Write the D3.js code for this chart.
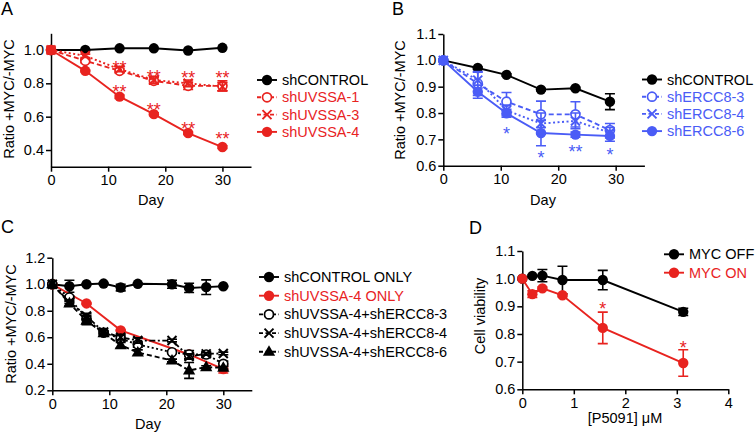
<!DOCTYPE html>
<html>
<head>
<meta charset="utf-8">
<script src="https://cdn.jsdelivr.net/npm/d3@7"></script>
<style>
  body { margin: 0; background: #fff; }
  svg { display: block; font-family: Arial, "Liberation Sans", Helvetica, sans-serif; }
</style>
</head>
<body>
<div id="box"></div>
<script>
// colours used for the series
var red = "#e8231f";
var blue = "#4a5cf6";

// panel A
var daysA = [0, 6, 12, 18, 24, 30];
var aControl = [1.0, 1.0, 1.01, 1.01, 0.997, 1.013];
var aUVSSA1 = [1.0, 0.935, 0.875, 0.815, 0.785, 0.785];
var aUVSSA1Err = [0, 0.012, 0.012, 0.02, 0.022, 0.03];
var aUVSSA3 = [1.0, 0.965, 0.885, 0.82, 0.80, 0.78];
var aUVSSA3Err = [0, 0.01, 0.015, 0.02, 0.02, 0.025];
var aUVSSA4 = [1.0, 0.875, 0.72, 0.615, 0.502, 0.418];
var aUVSSA4Err = [0, 0.005, 0.01, 0.008, 0.008, 0.008];
var starsA = [
  {x: 12, y: 0.915, t: "**"}, {x: 18, y: 0.864, t: "**"}, {x: 24, y: 0.856, t: "**"}, {x: 30, y: 0.856, t: "**"},
  {x: 12, y: 0.772, t: "**"}, {x: 18, y: 0.664, t: "**"}, {x: 24, y: 0.55, t: "**"}, {x: 30, y: 0.49, t: "**"}
];

// panel B
var daysB = [0, 6, 11, 17, 23, 29];
var bControl = [1.0, 0.971, 0.945, 0.889, 0.894, 0.843];
var bControlErr = [0, 0.004, 0.004, 0.004, 0.004, 0.03];
var bERCC3 = [1.0, 0.912, 0.843, 0.795, 0.795, 0.735];
var bERCC3Err = [0, 0.045, 0.035, 0.05, 0.048, 0.025];
var bERCC4 = [1.0, 0.925, 0.81, 0.76, 0.77, 0.725];
var bERCC4Err = [0, 0.03, 0.02, 0.04, 0.03, 0.02];
var bERCC6 = [1.0, 0.881, 0.799, 0.724, 0.718, 0.713];
var bERCC6Err = [0, 0.025, 0.015, 0.048, 0.01, 0.02];
var starsB = [
  {x: 11, y: 0.735, t: "*"}, {x: 17, y: 0.644, t: "*"}, {x: 23, y: 0.667, t: "**"}, {x: 29, y: 0.657, t: "*"}
];

// panel C
var daysC = [0, 3, 6, 9, 12, 15, 21, 24, 27, 30];
var cControl = [1.0, 0.985, 1.0, 1.005, 0.975, 1.003, 1.0, 0.972, 0.978, 0.985];
var cControlErr = [0, 0.045, 0.004, 0.004, 0.025, 0.004, 0.03, 0.035, 0.055, 0.004];
var daysCRed = [0, 6, 12, 24, 30];
var cUVSSA4 = [1.0, 0.855, 0.652, 0.47, 0.36];
var cUVSSA4Err = [0, 0.005, 0.005, 0.01, 0.03];
var cERCC3 = [1.0, 0.9, 0.735, 0.635, 0.59, 0.545, 0.487, 0.47, 0.47, 0.4];
var cERCC3Err = [0, 0.01, 0.03, 0.01, 0.02, 0.02, 0.01, 0.03, 0.02, 0.02];
var cERCC4 = [1.0, 0.865, 0.76, 0.64, 0.6, 0.575, 0.575, 0.455, 0.475, 0.478];
var cERCC4Err = [0, 0.01, 0.02, 0.01, 0.02, 0.02, 0.01, 0.02, 0.01, 0.01];
var cERCC6 = [1.0, 0.855, 0.725, 0.63, 0.54, 0.485, 0.425, 0.35, 0.375, 0.37];
var cERCC6Err = [0, 0.015, 0.03, 0.01, 0.02, 0.02, 0.01, 0.06, 0.01, 0.01];

// panel D
var doseD = [0, 0.195, 0.39, 0.78, 1.5625, 3.125];
var dOff = [1.0, 1.01, 1.011, 0.995, 0.995, 0.88];
var dOffErr = [0, 0.003, 0.022, 0.05, 0.035, 0.013];
var dOn = [1.0, 0.944, 0.965, 0.94, 0.822, 0.695];
var dOnErr = [0, 0.012, 0.005, 0.005, 0.057, 0.048];
var starsD = [{x: 1.5625, y: 0.904, t: "*"}, {x: 3.125, y: 0.765, t: "*"}];

var width = 755, height = 432;
var svg = d3.select("#box").append("svg")
  .attr("width", width)
  .attr("height", height);

function makeSeries(xs, ys, errs, color, dash, marker, name, textColor) {
  return {
    points: xs.map(function(x, i) { return {x: x, y: ys[i], e: errs ? errs[i] : 0}; }),
    color: color, dash: dash, marker: marker, name: name, textColor: textColor || color
  };
}

function drawMarker(g, type, x, y, color) {
  if (type == "dot") {
    g.append("circle").attr("cx", x).attr("cy", y).attr("r", 5.2).attr("fill", color);
  } else if (type == "ring") {
    g.append("circle").attr("cx", x).attr("cy", y).attr("r", 4.5)
      .attr("fill", "#fff").attr("stroke", color).attr("stroke-width", 1.7);
  } else if (type == "x") {
    var s = 4.5;
    g.append("path")
      .attr("d", "M" + (x - s) + "," + (y - s) + "L" + (x + s) + "," + (y + s) +
                 "M" + (x - s) + "," + (y + s) + "L" + (x + s) + "," + (y - s))
      .attr("stroke", color).attr("stroke-width", 2).attr("fill", "none");
  } else if (type == "tri") {
    g.append("path").attr("d", d3.symbol().type(d3.symbolTriangle).size(65)())
      .attr("transform", "translate(" + x + "," + (y + 0.5) + ")")
      .attr("fill", color);
  }
}

function dashFor(style) {
  if (style == "dash") return "5,3";
  if (style == "dot") return "2,2.5";
  if (style == "dashdot") return "6,2.5,2,2.5";
  return null;
}

function drawPanel(p) {
  var x = d3.scaleLinear().domain(p.xDomain).range(p.xRange);
  var y = d3.scaleLinear().domain(p.yDomain).range(p.yRange);
  var g = svg.append("g");

  // axes
  var xAxis = g.append("g")
    .attr("transform", "translate(0," + p.yRange[0] + ")")
    .call(d3.axisBottom(x).tickValues(p.xTicks).tickSize(5).tickPadding(3).tickSizeOuter(0)
      .tickFormat(d3.format("d")));
  var yAxis = g.append("g")
    .attr("transform", "translate(" + p.xRange[0] + ",0)")
    .call(d3.axisLeft(y).tickValues(p.yTicks).tickSize(5).tickPadding(2).tickSizeOuter(0)
      .tickFormat(d3.format(".1f")));
  [xAxis, yAxis].forEach(function(a) {
    a.selectAll("path, line").attr("stroke", "#000").attr("stroke-width", 1.5);
    a.selectAll("text").attr("font-size", 14.5).attr("fill", "#000")
      .attr("font-family", "Arial, 'Liberation Sans', sans-serif");
  });

  g.append("text").attr("x", p.xLabelPos[0]).attr("y", p.xLabelPos[1])
    .attr("text-anchor", "middle").attr("font-size", 14.5).text(p.xLabel);
  g.append("text")
    .attr("transform", "translate(" + p.yLabelPos[0] + "," + p.yLabelPos[1] + ") rotate(-90)")
    .attr("text-anchor", "middle").attr("font-size", 14.5).text(p.yLabel);
  g.append("text").attr("x", p.letterPos[0]).attr("y", p.letterPos[1])
    .attr("font-size", 18).text(p.letter);

  var line = d3.line().x(function(d) { return x(d.x); }).y(function(d) { return y(d.y); });

  p.series.forEach(function(s) {
    var sg = g.append("g");
    s.points.forEach(function(d) {
      if (d.e > 0) {
        var y0 = y(d.y - d.e), y1 = y(d.y + d.e), cx = x(d.x);
        sg.append("path")
          .attr("d", "M" + cx + "," + y0 + "V" + y1 +
                     "M" + (cx - 5) + "," + y0 + "H" + (cx + 5) +
                     "M" + (cx - 5) + "," + y1 + "H" + (cx + 5))
          .attr("stroke", s.color).attr("stroke-width", 1.6).attr("fill", "none");
      }
    });
    sg.append("path").datum(s.points).attr("d", line)
      .attr("fill", "none").attr("stroke", s.color).attr("stroke-width", 1.9)
      .attr("stroke-dasharray", dashFor(s.dash));
    s.points.forEach(function(d) { drawMarker(sg, s.marker, x(d.x), y(d.y), s.color); });
  });

  (p.stars || []).forEach(function(st) {
    g.append("text").attr("x", x(st.x)).attr("y", y(st.y) + 10)
      .attr("text-anchor", "middle").attr("font-size", 18)
      .attr("fill", p.starColor).text(st.t);
  });

  // legend
  p.series.forEach(function(s, i) {
    var ly = p.legend.y + i * p.legend.step;
    var lx = p.legend.x;
    g.append("line").attr("x1", lx).attr("x2", lx + 20).attr("y1", ly).attr("y2", ly)
      .attr("stroke", s.color).attr("stroke-width", 1.9)
      .attr("stroke-dasharray", s.dash == "solid" ? null : "4,2.5");
    drawMarker(g, s.marker, lx + 10, ly, s.color);
    g.append("text").attr("x", lx + 25).attr("y", ly).attr("dy", "0.35em")
      .attr("font-size", 14.5).attr("fill", s.textColor).text(s.name);
  });
}

drawPanel({
  letter: "A", letterPos: [1, 15],
  xDomain: [0, 35], xRange: [51, 251],
  yDomain: [0.3, 1.1], yRange: [166.7, 33.3],
  xTicks: [0, 10, 20, 30], yTicks: [0.4, 0.6, 0.8, 1.0],
  xLabel: "Day", xLabelPos: [151, 205],
  yLabel: "Ratio +MYC/-MYC", yLabelPos: [14, 99],
  starColor: red, stars: starsA,
  legend: {x: 257, y: 80, step: 17.3},
  series: [
    makeSeries(daysA, aControl, null, "#000", "solid", "dot", "shCONTROL"),
    makeSeries(daysA, aUVSSA1, aUVSSA1Err, red, "dash", "ring", "shUVSSA-1"),
    makeSeries(daysA, aUVSSA3, aUVSSA3Err, red, "dot", "x", "shUVSSA-3"),
    makeSeries(daysA, aUVSSA4, aUVSSA4Err, red, "solid", "dot", "shUVSSA-4")
  ]
});

drawPanel({
  letter: "B", letterPos: [392, 15],
  xDomain: [0, 35], xRange: [443.3, 644.4],
  yDomain: [0.6, 1.1], yRange: [165.7, 34],
  xTicks: [0, 10, 20, 30], yTicks: [0.6, 0.7, 0.8, 0.9, 1.0, 1.1],
  xLabel: "Day", xLabelPos: [543, 205],
  yLabel: "Ratio +MYC/-MYC", yLabelPos: [405, 100],
  starColor: blue, stars: starsB,
  legend: {x: 642, y: 79.5, step: 17.2},
  series: [
    makeSeries(daysB, bControl, bControlErr, "#000", "solid", "dot", "shCONTROL"),
    makeSeries(daysB, bERCC3, bERCC3Err, blue, "dash", "ring", "shERCC8-3"),
    makeSeries(daysB, bERCC4, bERCC4Err, blue, "dot", "x", "shERCC8-4"),
    makeSeries(daysB, bERCC6, bERCC6Err, blue, "solid", "dot", "shERCC8-6")
  ]
});

drawPanel({
  letter: "C", letterPos: [1, 233],
  xDomain: [0, 35], xRange: [52.3, 251.8],
  yDomain: [0.2, 1.2], yRange: [390.3, 257.7],
  xTicks: [0, 10, 20, 30], yTicks: [0.2, 0.4, 0.6, 0.8, 1.0, 1.2],
  xLabel: "Day", xLabelPos: [148, 429],
  yLabel: "Ratio +MYC/-MYC", yLabelPos: [16, 324],
  legend: {x: 259, y: 277, step: 18.7},
  series: [
    makeSeries(daysC, cControl, cControlErr, "#000", "solid", "dot", "shCONTROL ONLY"),
    makeSeries(daysCRed, cUVSSA4, cUVSSA4Err, red, "solid", "dot", "shUVSSA-4 ONLY"),
    makeSeries(daysC, cERCC3, cERCC3Err, "#000", "dot", "ring", "shUVSSA-4+shERCC8-3"),
    makeSeries(daysC, cERCC4, cERCC4Err, "#000", "dashdot", "x", "shUVSSA-4+shERCC8-4"),
    makeSeries(daysC, cERCC6, cERCC6Err, "#000", "dash", "tri", "shUVSSA-4+shERCC8-6")
  ]
});

drawPanel({
  letter: "D", letterPos: [469, 234],
  xDomain: [0, 4], xRange: [522.3, 728.3],
  yDomain: [0.6, 1.1], yRange: [389.3, 251],
  xTicks: [0, 1, 2, 3, 4], yTicks: [0.6, 0.7, 0.8, 0.9, 1.0, 1.1],
  xLabel: "[P5091] \u03bcM", xLabelPos: [625, 423],
  yLabel: "Cell viability", yLabelPos: [485, 316],
  starColor: red, stars: starsD,
  legend: {x: 664, y: 254.3, step: 18.4},
  series: [
    makeSeries(doseD, dOff, dOffErr, "#000", "solid", "dot", "MYC OFF"),
    makeSeries(doseD, dOn, dOnErr, red, "solid", "dot", "MYC ON")
  ]
});
</script>
</body>
</html>
